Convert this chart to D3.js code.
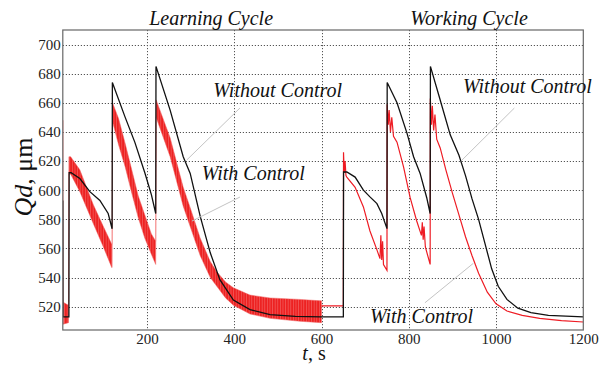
<!DOCTYPE html>
<html>
<head>
<meta charset="utf-8">
<script src="https://cdn.jsdelivr.net/npm/d3@7"></script>
<style>
  body { margin: 0; background: #fff; }
  svg text { font-family: "Liberation Serif", "Times New Roman", Times, "DejaVu Serif", serif; }
</style>
</head>
<body>
<div id="chart"></div>
<script>
// ticks
const xTicks = [200, 400, 600, 800, 1000, 1200];
const yTicks = [520, 540, 560, 580, 600, 620, 640, 660, 680, 700];
const titles = ['Learning Cycle', 'Working Cycle'];
const labels = ['Without Control', 'With Control'];

// Qd without control [t, Qd]
const withoutControl = [
  [7, 593], [7.4, 513], [21, 513], [21.5, 612], [26, 612], [46, 608], [69, 599], [92, 593], [111, 584], [120, 573.5],
  [120.6, 674], [150, 650], [172, 633], [195, 612], [210, 597], [220, 584],
  [220.6, 685], [253, 655], [283, 623], [299, 611.5], [322, 582], [345, 557], [367, 538.6], [398, 524.6], [436, 518], [482, 514.5],
  [540, 513.3], [600, 513], [650, 513],
  [650.5, 612.5], [658, 612.5], [677, 609], [696, 600], [711, 595.4], [727, 590.8], [738, 584], [750, 573.6],
  [750.5, 674], [773, 660], [796, 639], [811, 623], [826, 611.5], [841, 595], [849, 584],
  [849.6, 685], [870, 664], [895, 638], [915, 624], [930, 610], [945, 594], [960, 580], [975, 563], [990, 546],
  [1005, 534], [1025, 525], [1050, 519], [1080, 516], [1120, 514], [1200, 513]
];

// Qd with control, learning cycle: oscillating band [t, low, high]
const withControlBand = [
  [8, 508, 523], [20, 509, 521], [21, 611, 623], [25, 611, 623], [46, 599, 614], [77, 577, 590], [100, 561, 575],
  [119, 547, 563], [120, 547, 563], [121, 647, 660], [135, 631, 649], [150, 616, 632], [165, 598, 614],
  [180, 581, 596], [195, 567, 583], [210, 556, 570], [220, 549, 565], [221, 650, 662], [253, 623, 636],
  [283, 589, 602], [299, 575, 588], [322, 555, 567], [345, 540, 551], [360, 534, 544], [380, 526, 537],
  [398, 521, 533], [436, 515, 528], [482, 512, 526], [550, 510, 525], [600, 509, 524]
];

// Qd with control, single trace [t, Qd]
const withControlStart = [[7, 648], [7.6, 509], [8, 515]];
const withControlWorking = [
  [600, 520.5], [650, 520.5], [650.4, 626], [652, 612], [654, 620], [656, 610], [658, 609], [677, 602], [696, 588.5],
  [711, 572], [727, 559], [734, 553], [736, 569], [738, 552], [740, 565], [742, 549], [750, 545],
  [750.4, 659], [753, 645], [755, 655], [758, 640], [761, 650], [765, 637], [773, 633], [788, 616], [803, 595],
  [818, 579], [829, 569], [831, 578], [833, 566], [835, 575], [838, 561], [849, 549],
  [849.4, 663], [852, 645], [854, 658], [857, 641], [860, 652], [864, 635], [872, 629], [885, 614], [900, 598],
  [915, 583], [930, 568], [945, 555], [960, 543], [980, 530], [1000, 522], [1025, 517], [1060, 514],
  [1100, 512], [1150, 510.5], [1200, 509.5]
];

const width = 606, height = 365;
const margin = { top: 30, right: 22.7, bottom: 35, left: 62.8 };
const serif = '"Liberation Serif", "Times New Roman", Times, "DejaVu Serif", serif';

const svg = d3.select('#chart')
  .append('svg')
  .attr('width', width)
  .attr('height', height)
  .attr('font-family', serif);

const x = d3.scaleLinear()
  .domain([7, 1200])
  .range([margin.left, width - margin.right]);
const y = d3.scaleLinear()
  .domain([504, 710])
  .range([height - margin.bottom, margin.top]);

const defs = svg.append('defs');
defs.append('clipPath')
  .attr('id', 'plot-clip')
  .append('rect')
  .attr('x', margin.left)
  .attr('y', margin.top)
  .attr('width', x.range()[1] - x.range()[0])
  .attr('height', y.range()[0] - y.range()[1]);

// vertical teeth texture for the oscillating band
const stripes = defs.append('pattern')
  .attr('id', 'osc')
  .attr('patternUnits', 'userSpaceOnUse')
  .attr('width', 2.6)
  .attr('height', 10);
stripes.append('rect').attr('width', 2.6).attr('height', 10).attr('fill', '#ed2222');
stripes.append('rect').attr('x', 1.8).attr('width', 0.6).attr('height', 10).attr('fill', '#f36a6a');

// grid
const grid = svg.append('g').classed('grid', true)
  .attr('stroke', '#555')
  .attr('stroke-width', 1)
  .attr('stroke-dasharray', '1.2,1.8');
grid.selectAll('.gx')
  .data(xTicks.filter(d => d < 1200))
  .enter().append('line')
  .attr('x1', d => Math.round(x(d)) + 0.5)
  .attr('x2', d => Math.round(x(d)) + 0.5)
  .attr('y1', y.range()[1])
  .attr('y2', y.range()[0]);
grid.selectAll('.gy')
  .data(yTicks)
  .enter().append('line')
  .attr('y1', d => Math.round(y(d)) + 0.5)
  .attr('y2', d => Math.round(y(d)) + 0.5)
  .attr('x1', x.range()[0])
  .attr('x2', x.range()[1]);

const plot = svg.append('g').attr('clip-path', 'url(#plot-clip)');

// with control band
const band = d3.area()
  .x(d => x(d[0]))
  .y0(d => y(d[1]))
  .y1(d => y(d[2]));
plot.append('path')
  .datum(withControlBand)
  .attr('d', band)
  .attr('fill', 'url(#osc)')
  .attr('stroke', '#f06060')
  .attr('stroke-width', 0.5);

const line = d3.line()
  .x(d => x(d[0]))
  .y(d => y(d[1]));

plot.append('path')
  .datum(withControlStart)
  .attr('d', line)
  .attr('fill', 'none')
  .attr('stroke', '#f58080')
  .attr('stroke-width', 1.2);

plot.append('path')
  .datum(withControlWorking)
  .attr('d', line)
  .attr('fill', 'none')
  .attr('stroke', '#ee1c24')
  .attr('stroke-width', 1.2);

plot.append('path')
  .datum(withoutControl)
  .attr('d', line)
  .attr('fill', 'none')
  .attr('stroke', '#111')
  .attr('stroke-width', 1.3);

// frame
svg.append('rect')
  .attr('x', x.range()[0])
  .attr('y', y.range()[1])
  .attr('width', x.range()[1] - x.range()[0])
  .attr('height', y.range()[0] - y.range()[1])
  .attr('fill', 'none')
  .attr('stroke', '#666')
  .attr('stroke-width', 1.2);

// axes
const xAxis = d3.axisBottom(x).tickValues(xTicks).tickFormat(d3.format('d')).tickSize(0).tickPadding(3);
const yAxis = d3.axisLeft(y).tickValues(yTicks).tickFormat(d3.format('d')).tickSize(0).tickPadding(2);
const gx = svg.append('g')
  .attr('transform', `translate(0,${y.range()[0]})`)
  .call(xAxis);
const gy = svg.append('g')
  .attr('transform', `translate(${x.range()[0]},0)`)
  .call(yAxis);
[gx, gy].forEach(g => {
  g.attr('font-family', serif).attr('font-size', 15);
  g.select('.domain').remove();
  g.selectAll('text')
    .attr('fill', '#222')
    .style('font-family', serif)
    .style('font-size', '15px');
});

// titles
svg.selectAll('.title')
  .data(titles)
  .enter().append('text')
  .classed('title', true)
  .attr('x', (d, i) => x(i === 0 ? 347 : 938))
  .attr('y', 25)
  .attr('text-anchor', 'middle')
  .style('font-family', serif)
  .style('font-style', 'italic')
  .style('font-size', '20px')
  .attr('fill', '#111')
  .text(d => d);

// annotation leaders and labels
const notes = [
  { label: labels[0], tx: 352, ty: 664.3, from: [413, 656.4], to: [291, 620.7] },
  { label: labels[1], tx: 325.4, ty: 607, from: [413, 595.3], to: [303, 578.8] },
  { label: labels[0], tx: 924.3, ty: 666.7, from: [1042, 656.4], to: [922, 620.7] },
  { label: labels[1], tx: 711, ty: 508.6, from: [837, 522.7], to: [948, 549.8] }
];
svg.selectAll('.leader')
  .data(notes)
  .enter().append('line')
  .classed('leader', true)
  .attr('x1', d => x(d.from[0]))
  .attr('y1', d => y(d.from[1]))
  .attr('x2', d => x(d.to[0]))
  .attr('y2', d => y(d.to[1]))
  .attr('stroke', '#c4c4c4')
  .attr('stroke-width', 1);
svg.selectAll('.note')
  .data(notes)
  .enter().append('text')
  .classed('note', true)
  .attr('x', d => x(d.tx))
  .attr('y', d => y(d.ty))
  .style('font-family', serif)
  .style('font-style', 'italic')
  .style('font-size', '20px')
  .attr('fill', '#111')
  .text(d => d.label);

// axis labels
const yLabel = svg.append('text')
  .attr('transform', 'translate(32,177) rotate(-90)')
  .attr('text-anchor', 'middle')
  .style('font-family', serif)
  .style('font-size', '26px')
  .attr('fill', '#111');
yLabel.append('tspan').style('font-style', 'italic').text('Qd');
yLabel.append('tspan').text(', μm');

const xLabel = svg.append('text')
  .attr('x', 314)
  .attr('y', 360)
  .attr('text-anchor', 'middle')
  .style('font-family', serif)
  .style('font-size', '20px')
  .attr('fill', '#111');
xLabel.append('tspan').style('font-style', 'italic').text('t');
xLabel.append('tspan').text(', s');
</script>
</body>
</html>
